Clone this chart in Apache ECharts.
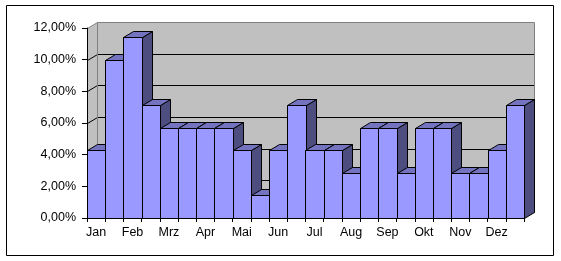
<!DOCTYPE html>
<html>
<head>
<meta charset="utf-8">
<script src="https://cdn.jsdelivr.net/npm/echarts@6/dist/echarts.min.js"></script>
<style>
html,body{margin:0;padding:0;background:#fff;}
#chart{width:561px;height:261px;}
</style>
</head>
<body>
<div id="chart"></div>
<script>
// Kategorien: zwei Balken pro Monat, Beschriftung nur am ersten
const categories = ['Jan','','Feb','','Mrz','','Apr','','Mai','','Jun','','Jul','','Aug','','Sep','','Okt','','Nov','','Dez',''];
// Anteile in %
const values = [4.29, 10.00, 11.43, 7.14, 5.71, 5.71, 5.71, 5.71, 4.29, 1.43, 4.29, 7.14,
                4.29, 4.29, 2.86, 5.71, 5.71, 2.86, 5.71, 5.71, 2.86, 2.86, 4.29, 7.14];
const yTicks = [0, 2, 4, 6, 8, 10, 12];

// Tiefe der 3D-Darstellung (px)
const DX = 10, DY = -6;
const FONT = "'Liberation Sans', Arial, sans-serif";

const chart = echarts.init(document.getElementById('chart'));

// Seitenwand, Rückwand, Gitterlinien
function renderWall(params, api){
    const cs = params.coordSys;
    const x0 = Math.round(cs.x) + 0.5, x1 = Math.round(cs.x + cs.width) + 0.5;
    const yTop = Math.round(api.coord([0, yTicks[yTicks.length-1]])[1]) + 0.5;
    const yBot = Math.round(api.coord([0, 0])[1]) + 0.5;
    const children = [];
    children.push({type:'polygon', shape:{points:[[x0,yTop],[x0+DX,yTop+DY],[x0+DX,yBot+DY],[x0,yBot]]},
        style:{fill:'#c0c0c0'}});
    children.push({type:'rect', shape:{x:x0+DX, y:yTop+DY, width:x1-x0, height:yBot-yTop},
        style:{fill:'#c0c0c0'}});
    yTicks.forEach(t => {
        const y = Math.round(api.coord([0, t])[1]) + 0.5;
        children.push({type:'polyline', shape:{points:[[x0,y],[x0+DX,y+DY],[x1+DX,y+DY]]},
            style:{stroke: t === 12 ? '#808080' : '#000', lineWidth:1, fill:null}});
    });
    // Kanten der Rückwand
    children.push({type:'line', shape:{x1:x0+DX, y1:yTop+DY, x2:x0+DX, y2:yBot+DY}, style:{stroke:'#808080', lineWidth:1}});
    children.push({type:'line', shape:{x1:x1+DX, y1:yTop+DY, x2:x1+DX, y2:yBot+DY}, style:{stroke:'#808080', lineWidth:1}});
    return {type:'group', children:children};
}

// 3D-Säule: Vorderseite, Oberseite, rechte Seite
function renderBar(params, api){
    const idx = api.value(0), v = api.value(1);
    const top = api.coord([idx, v]);
    const bot = api.coord([idx, 0]);
    const w = api.size([1, 0])[0];
    const xl = Math.round(top[0] - w/2) + 0.5, xr = Math.round(top[0] + w/2) + 0.5;
    const yt = Math.round(top[1]) + 0.5, yb = Math.round(bot[1]) + 0.5;
    const line = {stroke:'#000', lineWidth:1};
    return {type:'group', children:[
        {type:'polygon', shape:{points:[[xr,yt],[xr+DX,yt+DY],[xr+DX,yb+DY],[xr,yb]]},
            style:Object.assign({fill:'#4d4d80'}, line)},
        {type:'polygon', shape:{points:[[xl,yt],[xl+DX,yt+DY],[xr+DX,yt+DY],[xr,yt]]},
            style:Object.assign({fill:'#7373bf'}, line)},
        {type:'rect', shape:{x:xl, y:yt, width:xr-xl, height:yb-yt},
            style:Object.assign({fill:'#9999ff'}, line)}
    ]};
}

chart.setOption({
    backgroundColor:'#fff',
    animation:false,
    textStyle:{fontFamily:FONT},
    grid:{left:87, right:37, top:28, bottom:43},
    graphic:[{
        type:'rect', shape:{x:6.5, y:5.5, width:547, height:250},
        style:{fill:null, stroke:'#000', lineWidth:1}, z:0
    }],
    xAxis:{
        type:'category',
        data:categories,
        z:5,
        axisLine:{lineStyle:{color:'#000', width:1}},
        axisTick:{show:true, interval:0, length:4, lineStyle:{color:'#000'}},
        axisLabel:{interval:0, color:'#000', fontSize:12.5, fontFamily:FONT, margin:8}
    },
    yAxis:{
        type:'value',
        min:0, max:12, interval:2,
        z:5,
        axisLine:{show:true, lineStyle:{color:'#000', width:1}},
        axisTick:{show:true, length:5, lineStyle:{color:'#000'}},
        axisLabel:{color:'#000', fontSize:12.5, fontFamily:FONT, margin:11,
            formatter: v => v.toFixed(2).replace('.', ',') + '%'},
        splitLine:{show:false}
    },
    series:[
        {type:'custom', name:'wall', renderItem:renderWall, data:[[0, 0]], z:1, silent:true},
        {type:'custom', name:'Anteil', renderItem:renderBar,
            data: values.map((v, i) => [i, v]), encode:{x:0, y:1}, z:2}
    ]
});
</script>
</body>
</html>
